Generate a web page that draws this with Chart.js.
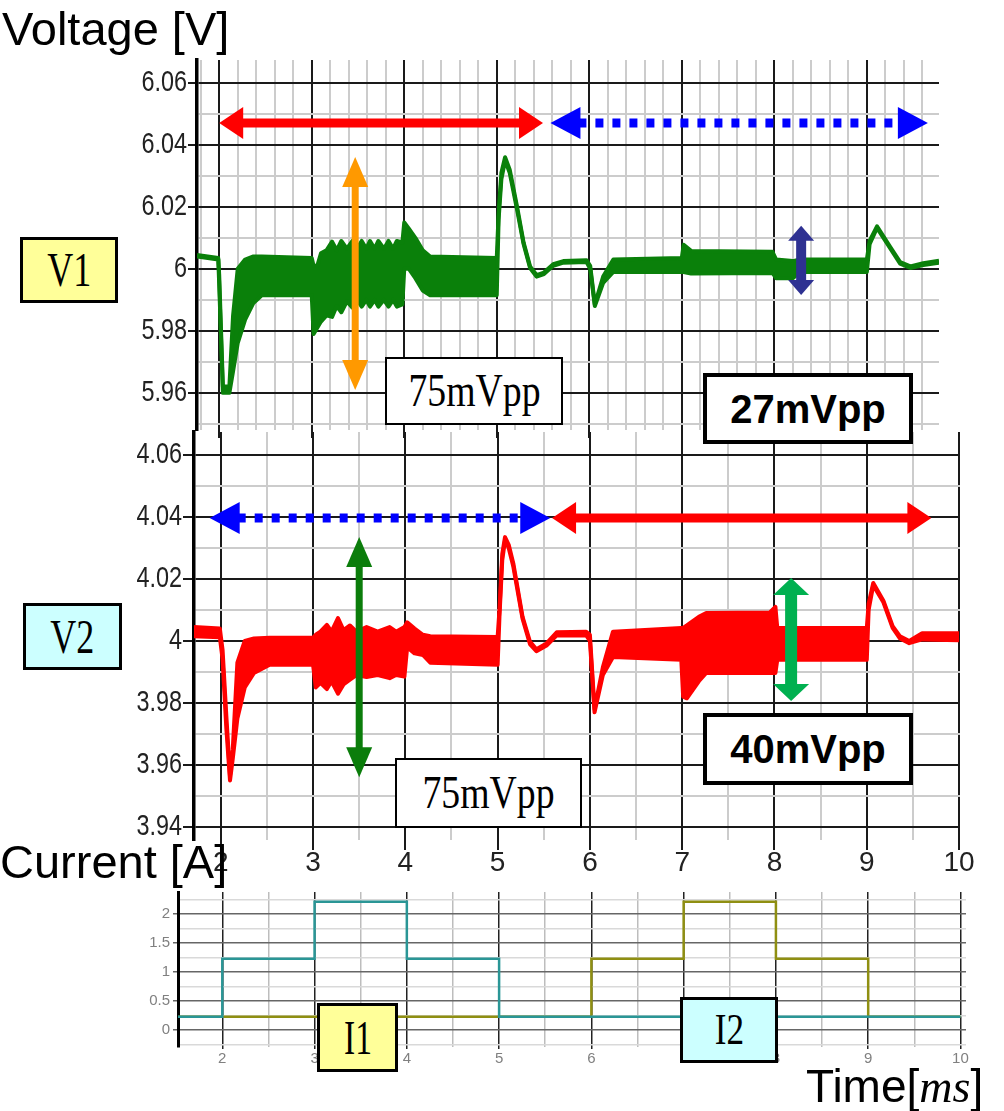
<!DOCTYPE html>
<html>
<head>
<meta charset="utf-8">
<script src="https://cdn.jsdelivr.net/npm/chart.js@4.4.1/dist/chart.umd.min.js"></script>
<style>
  body { margin: 0; background: #fff; }
  #wrap { position: relative; width: 1004px; height: 1111px; overflow: hidden; font-family: "Liberation Sans", Arial, sans-serif; }
  canvas { position: absolute; left: 0; top: 0; }
  .t { position: absolute; white-space: nowrap; color: #000; line-height: 1; }
  .box { position: absolute; box-sizing: border-box; border: 3px solid #000; display: flex; align-items: center; justify-content: center; font-family: "Liberation Serif", "Times New Roman", serif; color: #000; line-height: 1; }
  .box span { display: inline-block; }
</style>
</head>
<body>
<div id="wrap">
  <canvas id="cV1" width="1004" height="1111"></canvas>
  <canvas id="cV2" width="1004" height="1111"></canvas>
  <canvas id="cI" width="1004" height="1111"></canvas>

  <div class="t" style="left:2px;top:5px;font-size:47px">Voltage [V]</div>
  <div class="t" style="left:0px;top:838px;font-size:47px">Current [A]</div>
  <div class="t" style="left:806px;top:1063px;font-size:46px">Time[<i style="font-family:'Liberation Serif',serif">ms</i>]</div>

  <div class="box" style="left:20px;top:237px;width:98px;height:66px;background:#ffff99"><span style="font-size:48px;transform:scaleX(0.75)">V1</span></div>
  <div class="box" style="left:23px;top:603px;width:99px;height:67px;background:#ccffff"><span style="font-size:48px;transform:scaleX(0.75)">V2</span></div>
  <div class="box" style="left:385px;top:357px;width:178px;height:68px;background:#fff;border-width:2px"><span style="font-size:46px;transform:scaleX(0.82)">75mVpp</span></div>
  <div class="box" style="left:395px;top:758px;width:187px;height:70px;background:#fff;border-width:2px"><span style="font-size:46px;transform:scaleX(0.82)">75mVpp</span></div>
  <div class="box" style="left:703px;top:373px;width:210px;height:71px;background:#fff;border-width:4px;font-family:'Liberation Sans',Arial,sans-serif;font-weight:bold"><span style="font-size:40px">27mVpp</span></div>
  <div class="box" style="left:703px;top:713px;width:210px;height:72px;background:#fff;border-width:4px;font-family:'Liberation Sans',Arial,sans-serif;font-weight:bold"><span style="font-size:40px">40mVpp</span></div>
  <div class="box" style="left:317px;top:1003px;width:81px;height:69px;background:#ffff99"><span style="font-size:48px;transform:scaleX(0.7)">I1</span></div>
  <div class="box" style="left:680px;top:997px;width:98px;height:66px;background:#ccffff"><span style="font-size:44px;transform:scaleX(0.8)">I2</span></div>
</div>

<script>
// ---- data ----
// V1 trace: upper / lower edge of the ripple band
const v1Time = [1.76, 1.99, 2.00, 2.04, 2.11, 2.15, 2.20, 2.28, 2.37, 2.46,
                3.00, 3.02, 3.06, 3.10, 3.16, 3.22, 3.27, 3.32, 3.38, 3.44,
                3.49, 3.54, 3.59, 3.63, 3.68, 3.72, 3.78, 3.83, 3.88, 3.92,
                3.98, 4.00, 4.05, 4.12, 4.20, 4.28, 5.00, 5.02, 5.05, 5.09,
                5.14, 5.22, 5.29, 5.36, 5.43, 5.51, 5.61, 5.72, 5.97, 6.01,
                6.06, 6.15, 6.26, 7.00, 7.02, 7.10, 7.98, 8.02, 8.20, 8.28,
                9.00, 9.03, 9.11, 9.25, 9.36, 9.47, 9.61, 9.78];
const v1High = [6.0045, 6.0035, 5.9980, 5.9620, 5.9620, 5.9850, 6.0000, 6.0030, 6.0040, 6.0040,
                6.0035, 6.0010, 6.0010, 6.0050, 6.0060, 6.0088, 6.0060, 6.0090, 6.0065, 6.0090,
                6.0065, 6.0090, 6.0065, 6.0090, 6.0065, 6.0090, 6.0065, 6.0090, 6.0065, 6.0090,
                6.0085, 6.0150, 6.0130, 6.0100, 6.0060, 6.0040, 6.0035, 6.0180, 6.0310, 6.0360,
                6.0320, 6.0200, 6.0085, 6.0008, 5.9980, 5.9988, 6.0015, 6.0025, 6.0028, 6.0010,
                5.9885, 5.9975, 6.0030, 6.0035, 6.0078, 6.0058, 6.0055, 6.0030, 6.0025, 6.0030,
                6.0030, 6.0090, 6.0137, 6.0072, 6.0022, 6.0008, 6.0018, 6.0026];
const v1Low  = [6.0040, 6.0030, 5.9950, 5.9600, 5.9600, 5.9670, 5.9760, 5.9836, 5.9890, 5.9915,
                5.9915, 5.9790, 5.9810, 5.9830, 5.9850, 5.9845, 5.9880, 5.9860, 5.9895, 5.9875,
                5.9900, 5.9878, 5.9900, 5.9878, 5.9900, 5.9878, 5.9900, 5.9878, 5.9900, 5.9878,
                5.9885, 6.0000, 6.0000, 5.9970, 5.9930, 5.9915, 5.9915, 6.0160, 6.0290, 6.0350,
                6.0310, 6.0190, 6.0080, 6.0003, 5.9975, 5.9983, 6.0010, 6.0020, 6.0022, 6.0000,
                5.9880, 5.9955, 5.9990, 5.9990, 5.9990, 5.9985, 5.9987, 5.9970, 5.9970, 5.9990,
                5.9990, 6.0080, 6.0132, 6.0068, 6.0017, 6.0003, 6.0012, 6.0020];

// V2 trace
const v2Time = [1.71, 1.99, 2.02, 2.06, 2.10, 2.13, 2.18, 2.26, 2.36, 2.53,
                3.00, 3.03, 3.08, 3.15, 3.20, 3.27, 3.33, 3.40, 3.47, 3.58,
                3.70, 3.83, 3.90, 3.99, 4.02, 4.10, 4.19, 4.27, 5.00, 5.02,
                5.05, 5.08, 5.12, 5.17, 5.27, 5.35, 5.42, 5.53, 5.64, 5.96,
                6.00, 6.05, 6.14, 6.25, 6.99, 7.01, 7.05, 7.18, 7.26, 7.95,
                8.01, 8.03, 9.00, 9.02, 9.07, 9.18, 9.28, 9.36, 9.46, 9.60,
                10.00];
const v2High = [4.0045, 4.0040, 3.9970, 3.9760, 3.9565, 3.9650, 3.9930, 4.0000, 4.0008, 4.0010,
                4.0010, 4.0020, 4.0030, 4.0052, 4.0030, 4.0074, 4.0035, 4.0050, 4.0030, 4.0045,
                4.0030, 4.0045, 4.0030, 4.0045, 4.0060, 4.0040, 4.0020, 4.0015, 4.0013, 4.0100,
                4.0280, 4.0335, 4.0310, 4.0250, 4.0078, 3.9998, 3.9973, 3.9992, 4.0028, 4.0030,
                4.0020, 3.9780, 3.9915, 4.0030, 4.0042, 4.0042, 4.0050, 4.0078, 4.0090, 4.0092,
                4.0110, 4.0042, 4.0042, 4.0120, 4.0187, 4.0130, 4.0048, 4.0015, 4.0000, 4.0025,
                4.0025];
const v2Low  = [4.0015, 4.0012, 3.9940, 3.9720, 3.9550, 3.9620, 3.9750, 3.9850, 3.9897, 3.9923,
                3.9923, 3.9850, 3.9865, 3.9845, 3.9870, 3.9830, 3.9860, 3.9875, 3.9890, 3.9884,
                3.9890, 3.9880, 3.9890, 3.9885, 3.9980, 3.9960, 3.9955, 3.9930, 3.9923, 4.0080,
                4.0260, 4.0325, 4.0300, 4.0240, 4.0072, 3.9990, 3.9967, 3.9985, 4.0018, 4.0018,
                4.0000, 3.9770, 3.9890, 3.9948, 3.9939, 3.9820, 3.9815, 3.9870, 3.9897, 3.9897,
                3.9897, 3.9939, 3.9939, 4.0100, 4.0180, 4.0125, 4.0042, 4.0008, 3.9993, 4.0005,
                4.0002];

// currents: value holds from each time until the next one
const i1Time = [1.52, 2, 3, 4, 5, 10];
const i1Amp  = [0.23, 1.23, 2.21, 1.23, 0.23, 0.23];
const i2Time = [1.52, 6, 7, 8, 9, 10];
const i2Amp  = [0.23, 1.23, 2.21, 1.23, 0.23, 0.23];

// tick labels
const v1TickValues = [5.96, 5.98, 6.00, 6.02, 6.04, 6.06];
const v1TickLabels = ['5.96', '5.98', '6', '6.02', '6.04', '6.06'];
const v2TickValues = [3.94, 3.96, 3.98, 4.00, 4.02, 4.04, 4.06];
const v2TickLabels = ['3.94', '3.96', '3.98', '4', '4.02', '4.04', '4.06'];
const iTickValues = [0, 0.5, 1, 1.5, 2];
const iTickLabels = ['0', '0.5', '1', '1.5', '2'];
const timeTickValues = [2, 3, 4, 5, 6, 7, 8, 9, 10];
const timeTickLabels = ['2', '3', '4', '5', '6', '7', '8', '9', '10'];

// double arrows drawn on top of the plots (data coordinates)
const v1Arrows = [
  { from: [2.00, 6.0471], to: [5.50, 6.0471], color: '#ff0000', width: 9, head: 24, half: 16 },
  { from: [5.58, 6.0471], to: [9.66, 6.0471], color: '#0000ff', width: 9, head: 30, half: 16, dash: [8, 9] },
  { from: [3.47, 6.0361], to: [3.47, 5.9609], color: '#ff9900', width: 7, head: 30, half: 13 },
  { from: [8.29, 6.0139], to: [8.29, 5.9916], color: '#2e3192', width: 10, head: 15, half: 13 }
];
const v2Arrows = [
  { from: [1.88, 4.0397], to: [5.57, 4.0397], color: '#0000ff', width: 9, head: 30, half: 16, dash: [8, 9] },
  { from: [5.59, 4.0397], to: [9.70, 4.0397], color: '#ff0000', width: 9, head: 24, half: 16 },
  { from: [3.50, 4.0335], to: [3.50, 3.9560], color: '#0b7d0b', width: 7, head: 30, half: 13 },
  { from: [8.18, 4.0203], to: [8.18, 3.9806], color: '#00b050', width: 12, head: 17, half: 18 }
];

// ---- helpers ----
function gridTicks(from, to, step) {
  const out = [];
  for (let i = 0; from + i * step <= to + 1e-9; i++) out.push(+(from + i * step).toFixed(4));
  return out;
}
function onStep(v, step) {
  const r = v / step;
  return Math.abs(r - Math.round(r)) < 1e-6;
}
function lookup(values, labels) {
  return v => {
    const i = values.findIndex(u => Math.abs(u - v) < 1e-6);
    return i >= 0 ? labels[i] : '';
  };
}
function band(time, hi, lo, color) {
  const common = { borderColor: color, backgroundColor: color, borderWidth: 4, pointRadius: 0,
                   borderJoinStyle: 'round', tension: 0 };
  return [
    Object.assign({ data: time.map((t, i) => ({ x: t, y: lo[i] })), fill: false }, common),
    Object.assign({ data: time.map((t, i) => ({ x: t, y: hi[i] })), fill: '-1' }, common)
  ];
}

const arrowPlugin = {
  id: 'arrows',
  afterDatasetsDraw(chart, args, opts) {
    const { ctx } = chart;
    const xs = chart.scales.x, ys = chart.scales.y;
    (opts.items || []).forEach(a => {
      const x1 = xs.getPixelForValue(a.from[0]), y1 = ys.getPixelForValue(a.from[1]);
      const x2 = xs.getPixelForValue(a.to[0]), y2 = ys.getPixelForValue(a.to[1]);
      const len = Math.hypot(x2 - x1, y2 - y1);
      const ux = (x2 - x1) / len, uy = (y2 - y1) / len;
      const px = -uy, py = ux;
      ctx.save();
      ctx.strokeStyle = a.color;
      ctx.fillStyle = a.color;
      ctx.lineWidth = a.width;
      ctx.lineCap = 'butt';
      if (a.dash) ctx.setLineDash(a.dash);
      ctx.beginPath();
      ctx.moveTo(x1 + ux * (a.head - 2), y1 + uy * (a.head - 2));
      ctx.lineTo(x2 - ux * (a.head - 2), y2 - uy * (a.head - 2));
      ctx.stroke();
      ctx.setLineDash([]);
      [[x1, y1, 1], [x2, y2, -1]].forEach(([hx, hy, s]) => {
        const bx = hx + s * ux * a.head, by = hy + s * uy * a.head;
        ctx.beginPath();
        ctx.moveTo(hx, hy);
        ctx.lineTo(bx + px * a.half, by + py * a.half);
        ctx.lineTo(bx - px * a.half, by - py * a.half);
        ctx.closePath();
        ctx.fill();
      });
      ctx.restore();
    });
  }
};

// squeeze the y tick labels horizontally (the original uses a condensed face)
const narrowYLabels = {
  id: 'narrowY',
  afterLayout(chart, args, opts) {
    const s = chart.scales.y;
    if (!opts.k || s._narrowed) return;
    const orig = s.drawLabels;
    s.drawLabels = function (area) {
      const ctx = this.ctx;
      const px = this.right - this.options.grid.tickLength - this.options.ticks.padding;
      ctx.save();
      ctx.translate(px, 0);
      ctx.scale(opts.k, 1);
      ctx.translate(-px, 0);
      orig.call(this, area);
      ctx.restore();
    };
    s._narrowed = true;
  }
};

const labelFamily = "'Liberation Sans', Arial, sans-serif";
const yTickFont = { family: labelFamily, size: 30, lineHeight: 1 };
const xTickFont = { family: labelFamily, size: 28, lineHeight: 1 };
const MAJOR = '#1a1a1a', MINOR = '#cccccc';

function gridStyle(step, major, minor, wMajor, wMinor, tickLen) {
  return {
    color: c => (c.tick && onStep(c.tick.value, step)) ? major : minor,
    lineWidth: c => (c.tick && onStep(c.tick.value, step)) ? wMajor : wMinor,
    tickColor: c => (c.tick && onStep(c.tick.value, step)) ? major : 'rgba(0,0,0,0)',
    tickWidth: wMajor,
    tickLength: tickLen
  };
}

const baseOptions = (pad, arrows, k) => ({
  responsive: false,
  animation: false,
  devicePixelRatio: 1,
  events: [],
  layout: { autoPadding: false, padding: pad },
  plugins: { legend: { display: false }, tooltip: { enabled: false }, arrows: { items: arrows }, narrowY: { k: k } }
});

// ---- V1 ----
new Chart(document.getElementById('cV1'), {
  type: 'line',
  data: { datasets: band(v1Time, v1High, v1Low, '#0a800a') },
  options: Object.assign(baseOptions({ left: 0, right: 65, top: 60, bottom: 671 }, v1Arrows, 0.78), {
    scales: {
      x: {
        type: 'linear', min: 1.76, max: 9.78,
        afterBuildTicks: s => { s.ticks = gridTicks(1.8, 9.6, 0.2).map(v => ({ value: v })); },
        afterFit: s => { s.height = 10; },
        border: { display: false },
        grid: gridStyle(1, MAJOR, MINOR, 2, 2, 8),
        ticks: { display: false }
      },
      y: {
        min: 5.948, max: 6.0674,
        afterBuildTicks: s => { s.ticks = gridTicks(5.95, 6.06, 0.01).map(v => ({ value: v })); },
        afterFit: s => { s.width = 197; },
        border: { display: true, color: '#000', width: 3.5 },
        grid: gridStyle(0.02, MAJOR, MINOR, 2, 2, 9),
        ticks: { callback: lookup(v1TickValues, v1TickLabels), font: yTickFont, color: '#222', padding: 1, autoSkip: false }
      }
    }
  }),
  plugins: [arrowPlugin, narrowYLabels]
});

// ---- V2 ----
new Chart(document.getElementById('cV2'), {
  type: 'line',
  data: { datasets: band(v2Time, v2High, v2Low, '#ff0000') },
  options: Object.assign(baseOptions({ left: 0, right: 44, top: 432, bottom: 221 }, v2Arrows, 0.78), {
    scales: {
      x: {
        type: 'linear', min: 1.71, max: 10.01,
        afterBuildTicks: s => { s.ticks = gridTicks(2, 10, 0.5).map(v => ({ value: v })); },
        afterFit: s => { s.height = 50; },
        border: { display: false },
        grid: gridStyle(1, MAJOR, MINOR, 2, 2, 10),
        ticks: { callback: lookup(timeTickValues, timeTickLabels), font: xTickFont, color: '#222', padding: -1, maxRotation: 0, autoSkip: false }
      },
      y: {
        min: 3.9358, max: 4.0674,
        afterBuildTicks: s => { s.ticks = gridTicks(3.94, 4.06, 0.01).map(v => ({ value: v })); },
        afterFit: s => { s.width = 194; },
        border: { display: true, color: '#000', width: 3.5 },
        grid: gridStyle(0.02, MAJOR, MINOR, 2, 2, 11),
        ticks: { callback: lookup(v2TickValues, v2TickLabels), font: yTickFont, color: '#222', padding: 1, autoSkip: false }
      }
    }
  }),
  plugins: [arrowPlugin, narrowYLabels]
});

// ---- currents (first dataset is drawn on top) ----
const stepLine = (time, amp, color) => ({
  data: time.map((t, i) => ({ x: t, y: amp[i] })),
  borderColor: color, borderWidth: 2.5, pointRadius: 0, stepped: true, fill: false
});
new Chart(document.getElementById('cI'), {
  type: 'line',
  data: { datasets: [stepLine(i1Time, i1Amp, '#2a9696'), stepLine(i2Time, i2Amp, '#8f8f12')] },
  options: Object.assign(baseOptions({ left: 0, right: 38, top: 892, bottom: 41 }, [], 0), {
    scales: {
      x: {
        type: 'linear', min: 1.52, max: 10.06,
        afterBuildTicks: s => { s.ticks = gridTicks(2, 10, 0.5).map(v => ({ value: v })); },
        afterFit: s => { s.height = 23; },
        border: { display: false },
        grid: gridStyle(1, '#222', '#bdbdbd', 1.5, 1.5, 2),
        ticks: { callback: lookup(timeTickValues, timeTickLabels), font: { family: labelFamily, size: 15, lineHeight: 1 }, color: '#808080', padding: 2, maxRotation: 0, autoSkip: false }
      },
      y: {
        min: -0.29, max: 2.38,
        afterBuildTicks: s => { s.ticks = gridTicks(-0.25, 2.25, 0.25).map(v => ({ value: v })); },
        afterFit: s => { s.width = 178; },
        border: { display: true, color: '#000', width: 3 },
        grid: gridStyle(0.5, '#666666', '#d9d9d9', 1.5, 1.5, 5),
        ticks: { callback: lookup(iTickValues, iTickLabels), font: { family: labelFamily, size: 15, lineHeight: 1 }, color: '#808080', padding: 3, autoSkip: false }
      }
    }
  })
});
</script>
</body>
</html>
